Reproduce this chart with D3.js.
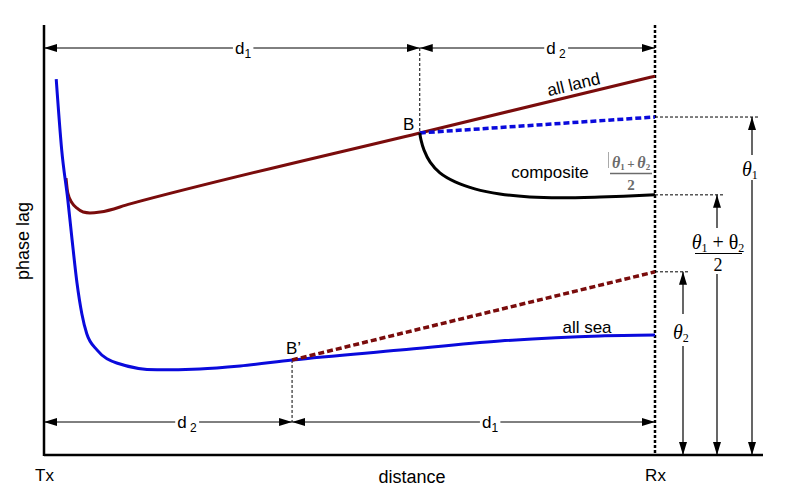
<!DOCTYPE html>
<html><head><meta charset="utf-8">
<script src="https://cdn.jsdelivr.net/npm/d3@7"></script>
<style>
body{margin:0;background:#fff;}
text{font-family:"Liberation Sans",Arial,sans-serif;}
.serif{font-family:"Liberation Serif","Times New Roman",serif;font-style:italic;}
</style>
</head><body>
<svg id="c" width="789" height="495"></svg>
<script>
// ---- data (distance 0..100 Tx->Rx, phase lag arbitrary 0..100) ----
const seaDist  = [2.0, 2.9, 3.9, 4.6, 5.4, 6.2, 7.0, 8.7, 11.9, 18.5, 25.5, 32.1, 40.6, 58.3, 74.6, 91.0, 100];
const seaLag   = [87.4,70.9,59.3,50.0,40.0,32.8,28.2,24.4,21.4,19.8,20.0,20.7,22.1,24.4,26.5,27.7,27.9];
const landDist = [3.6, 3.9, 4.6, 5.4, 6.4, 7.5, 9.2, 14.1, 61.5, 100];
const landLag  = [64.4,60.9,58.6,57.4,56.5,56.3,56.5,58.4,74.9,88.1];
const compDist = [61.5,61.7,62.2,63.2,64.8,67.3,70.5,74.6,79.5,84.5,91.0,100];
const compLag  = [74.9,73.3,70.9,68.1,65.6,63.5,61.9,60.7,60.0,59.8,60.0,60.5];
const seaExtDist  = [61.5, 100];   // sea-like slope after B (dashed blue)
const seaExtLag   = [74.9, 78.6];
const landExtDist = [40.6, 100];   // land-like slope after B' (dashed red)
const landExtLag  = [22.1, 42.6];
const tickVals   = [0, 100];
const tickLabels = ["Tx", "Rx"];

const svg = d3.select("#c");
const x = d3.scaleLinear().domain([0,100]).range([44,655]);
const y = d3.scaleLinear().domain([0,100]).range([455,25]);
const RED="#7a0c0c", BLUE="#0a0adc";
const line = (c)=>d3.line().x(d=>x(d[0])).y(d=>y(d[1])).curve(c||d3.curveLinear);
const zip=(a,b)=>a.map((v,i)=>[v,b[i]]);

const defs=svg.append("defs");
defs.append("marker").attr("id","ah").attr("viewBox","0 0 13 8").attr("refX",13).attr("refY",4)
   .attr("markerWidth",13).attr("markerHeight",8).attr("markerUnits","userSpaceOnUse").attr("orient","auto-start-reverse")
   .append("path").attr("d","M0,0L13,4L0,8Z").attr("fill","#000");

// axes
const xAxis=d3.axisBottom(x).tickValues(tickVals).tickFormat((d,i)=>tickLabels[i]).tickSize(0).tickPadding(14);
const gx=svg.append("g").attr("transform","translate(0,455)").call(xAxis);
gx.select(".domain").remove();
gx.selectAll("text").attr("font-size",17).attr("fill","#000").style("font-family","Liberation Sans, Arial, sans-serif");
svg.append("line").attr("x1",44).attr("x2",763).attr("y1",455).attr("y2",455).attr("stroke","#000").attr("stroke-width",2.5);
svg.append("line").attr("x1",44).attr("x2",44).attr("y1",25).attr("y2",456).attr("stroke","#000").attr("stroke-width",2.5);
svg.append("text").attr("x",412).attr("y",483).attr("text-anchor","middle").attr("font-size",18).text("distance");
svg.append("text").attr("transform","translate(29,241) rotate(-90)").attr("text-anchor","middle").attr("font-size",18).text("phase lag");

// Rx dashed vertical
svg.append("line").attr("x1",x(100)).attr("x2",x(100)).attr("y1",25).attr("y2",455).attr("stroke","#000").attr("stroke-width",2.5).attr("stroke-dasharray","3,2");

// thin dashed helpers
const thin=(x1,y1,x2,y2)=>svg.append("line").attr("x1",x1).attr("y1",y1).attr("x2",x2).attr("y2",y2).attr("stroke","#000").attr("stroke-width",1).attr("stroke-dasharray","3,2");
thin(x(seaExtDist[0]),48,x(seaExtDist[0]),y(seaExtLag[0]));
thin(x(landExtDist[0]),y(landExtLag[0]),x(landExtDist[0]),422);
thin(x(100),y(seaExtLag[1]),760,y(seaExtLag[1]));
thin(x(100),y(compLag[compLag.length-1]),723,y(compLag[compLag.length-1]));
thin(x(100),y(landExtLag[1]),690,y(landExtLag[1]));

// curves
svg.append("path").attr("d",line(d3.curveMonotoneX)(zip(landDist,landLag))).attr("fill","none").attr("stroke",RED).attr("stroke-width",3);
svg.append("path").attr("d",line(d3.curveMonotoneX)(zip(seaDist,seaLag))).attr("fill","none").attr("stroke",BLUE).attr("stroke-width",3);
svg.append("path").attr("d",line()(zip(seaExtDist,seaExtLag))).attr("fill","none").attr("stroke",BLUE).attr("stroke-width",3.5).attr("stroke-dasharray","6,3");
svg.append("path").attr("d",line()(zip(landExtDist,landExtLag))).attr("fill","none").attr("stroke",RED).attr("stroke-width",3.5).attr("stroke-dasharray","6,3");
svg.append("path").attr("d",line(d3.curveCatmullRom.alpha(0.5))(zip(compDist,compLag))).attr("fill","none").attr("stroke","#000").attr("stroke-width",3);

// horizontal dimension arrows with labels
function hArrow(x1,x2,yy,label,sub,sp,cx){
  const g=svg.append("g");
  g.append("line").attr("x1",x1).attr("x2",x2).attr("y1",yy).attr("y2",yy).attr("stroke","#000").attr("stroke-width",1)
   .attr("marker-start","url(#ah)").attr("marker-end","url(#ah)");
  const t=g.append("text").attr("x",cx).attr("y",yy+6).attr("text-anchor","middle").attr("font-size",17);
  t.append("tspan").text(label+(sp?"\u2009":""));
  t.append("tspan").attr("font-size",12).attr("dy",4).text(sub);
  const bb=t.node().getBBox();
  g.insert("rect","text").attr("x",bb.x-2).attr("y",yy-3).attr("width",bb.width+4).attr("height",6).attr("fill","#fff");
}
hArrow(x(0),x(seaExtDist[0]),48,"d","1",false,243);
hArrow(x(seaExtDist[0]),x(100),48,"d","2",true,556);
hArrow(x(0),x(landExtDist[0]),422,"d","2",true,187);
hArrow(x(landExtDist[0]),x(100),422,"d","1",false,490);

// vertical theta arrows
function vArrow(xx,y1,y2,gapTop,gapBot){
  svg.append("line").attr("x1",xx).attr("x2",xx).attr("y1",y1).attr("y2",gapTop).attr("stroke","#000").attr("stroke-width",1.2).attr("marker-start","url(#ah)");
  svg.append("line").attr("x1",xx).attr("x2",xx).attr("y1",gapBot).attr("y2",y2).attr("stroke","#000").attr("stroke-width",1.2).attr("marker-end","url(#ah)");
}
vArrow(752,y(seaExtLag[1]),455,155,180);
vArrow(717,y(compLag[compLag.length-1]),455,228,274);
vArrow(683,y(landExtLag[1]),455,314,346);

function theta(parent,xx,yy,n,fs,color){
  const t=parent.append("text").attr("class","serif").attr("x",xx).attr("y",yy).attr("font-size",fs).attr("fill",color||"#000");
  t.append("tspan").text("\u03b8");
  t.append("tspan").attr("font-size",fs*0.6).attr("dy",fs*0.15).style("font-style","normal").text(n);
  return t;
}
theta(svg,742,176,"1",20);
theta(svg,673,339,"2",20);
// (θ1+θ2)/2 at right
{
  const g=svg.append("g");
  const t=g.append("text").attr("class","serif").attr("x",718).attr("y",249).attr("text-anchor","middle").attr("font-size",20);
  t.append("tspan").text("\u03b8");
  t.append("tspan").attr("font-size",12).attr("dy",3).style("font-style","normal").text("1");
  t.append("tspan").attr("dy",-3).style("font-style","normal").text(" + \u03b8");
  t.append("tspan").attr("font-size",12).attr("dy",3).style("font-style","normal").text("2");
  g.append("line").attr("x1",695).attr("x2",742).attr("y1",253.5).attr("y2",253.5).attr("stroke","#000").attr("stroke-width",1);
  g.append("text").attr("x",718).attr("y",271).attr("text-anchor","middle").attr("font-size",18).style("font-family","Liberation Serif, serif").text("2");
}
// gray fraction near composite
{
  const G="#6b6b6b";
  const g=svg.append("g");
  const t=g.append("text").attr("class","serif").attr("x",631).attr("y",168).attr("text-anchor","middle").attr("font-size",16).attr("fill",G).attr("font-weight","bold");
  t.append("tspan").text("\u03b8");
  t.append("tspan").attr("font-size",9).attr("dy",2).style("font-style","normal").text("1");
  t.append("tspan").attr("dy",-2).style("font-style","normal").attr("font-size",13).text("\u2009+\u2009");
  t.append("tspan").text("\u03b8");
  t.append("tspan").attr("font-size",9).attr("dy",2).style("font-style","normal").text("2");
  g.append("line").attr("x1",610).attr("x2",652).attr("y1",173.5).attr("y2",173.5).attr("stroke",G).attr("stroke-width",1.5);
  g.append("text").attr("x",631).attr("y",190).attr("text-anchor","middle").attr("font-size",15).attr("fill",G).attr("font-weight","bold").style("font-family","Liberation Serif, serif").text("2");
  g.append("line").attr("x1",608.5).attr("x2",608.5).attr("y1",152).attr("y2",168).attr("stroke","#aaa").attr("stroke-width",1);
}

// labels
const ang=Math.atan2(y(landLag[9])-y(landLag[8]), x(landDist[9])-x(landDist[8]))*180/Math.PI;
svg.append("text").attr("transform",`translate(575,90) rotate(${ang})`).attr("text-anchor","middle").attr("font-size",17).text("all land");
svg.append("text").attr("x",403).attr("y",130).attr("font-size",17).text("B");
svg.append("text").attr("x",286).attr("y",354).attr("font-size",17).text("B\u2019");
svg.append("text").attr("x",550).attr("y",178).attr("text-anchor","middle").attr("font-size",17).text("composite");
svg.append("text").attr("x",587).attr("y",333).attr("text-anchor","middle").attr("font-size",17).text("all sea");
</script>
</body></html>
